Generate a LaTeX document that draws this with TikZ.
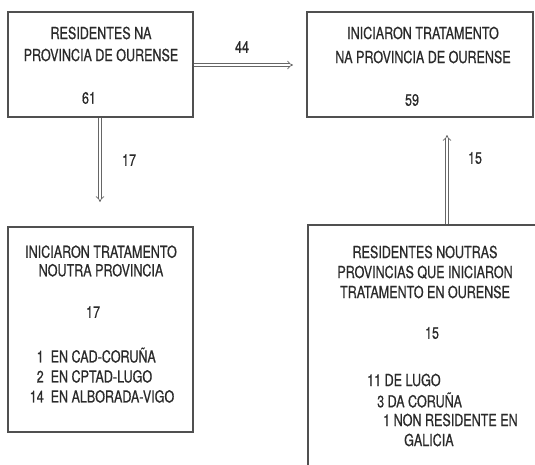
\documentclass[tikz,border=0pt]{standalone}
\usepackage{fontspec}
\setmainfont[FakeStretch=0.76,FakeBold=0.6]{TeX Gyre Heros}
\usetikzlibrary{arrows.meta}
\definecolor{ink}{HTML}{2A2A2A}
\definecolor{rule}{HTML}{505050}
\definecolor{dbl}{HTML}{666666}
\tikzset{
  boxframe/.style={draw=rule, line width=1.2pt, inner sep=0pt},
  txt/.style={text=ink, font=\fontsize{16.5}{20}\selectfont, inner sep=0pt, align=center},
  flow/.style={draw=dbl, line width=0.75pt, double=white, double distance=2.2pt, -{Implies[length=3.5pt]}},
}
\begin{document}
\begin{tikzpicture}[x=1pt,y=-1pt]
\useasboundingbox (0,0) rectangle (535,464);
\clip (0,0) rectangle (535,464);
% boxes
\node[boxframe, minimum width=185pt, minimum height=105pt] (b1) at (100.5,64.5) {};
\node[boxframe, minimum width=226pt, minimum height=105pt] (b2) at (420,64.5) {};
\node[boxframe, minimum width=185pt, minimum height=205pt] (b3) at (100.5,329.5) {};
\node[boxframe, minimum width=240pt, minimum height=260pt] (b4) at (428,355) {};
% connectors
\coordinate (e44) at (293,65);
\coordinate (e17) at (100,202);
\coordinate (e15) at (447,135);
\draw[flow] (b1.east |- e44) -- (e44);
\draw[flow] (b1.south -| e17) -- (e17);
\draw[flow] (b4.north -| e15) -- (e15);
% texts box 1
\node[txt, font=\fontsize{16.5}{22}\selectfont] (t1) at (101,44) {RESIDENTES NA\\PROVINCIA DE OURENSE};
\node[txt] (n1) at (89,98) {61};
% texts box 2
\node[txt, font=\fontsize{16.5}{24}\selectfont] (t2) at (423,45) {INICIARON TRATAMENTO\\NA PROVINCIA DE OURENSE};
\node[txt] (n2) at (412,100) {59};
% texts box 3
\node[txt, font=\fontsize{16.5}{18.5}\selectfont] (t3) at (101,261) {INICIARON TRATAMENTO\\NOUTRA PROVINCIA};
\node[txt] (n3) at (93,312) {17};
\node[txt, font=\fontsize{16.5}{20}\selectfont] (l3) at (102,378)
  {\begin{tabular}{@{}r@{\ \ }l@{}}1 & EN CAD-CORUÑA\\2 & EN CPTAD-LUGO\\14 & EN ALBORADA-VIGO\end{tabular}};
% texts box 4
\node[txt, font=\fontsize{16.5}{20}\selectfont] (t4) at (425,272) {RESIDENTES NOUTRAS\\PROVINCIAS QUE INICIARON\\TRATAMENTO EN OURENSE};
\node[txt] (n4) at (432,333) {15};
\node[txt, anchor=west] (l4a) at (367,380) {11 DE LUGO};
\node[txt, anchor=west] (l4b) at (377,400) {3 DA CORUÑA};
\node[txt, anchor=west] (l4c) at (383,420) {1 NON RESIDENTE EN};
\node[txt, anchor=west] (l4d) at (404,440) {GALICIA};
% labels
\node[txt] (l44) at (242,47) {44};
\node[txt] (l17) at (129,160) {17};
\node[txt] (l15) at (475,158) {15};
\end{tikzpicture}
\end{document}
